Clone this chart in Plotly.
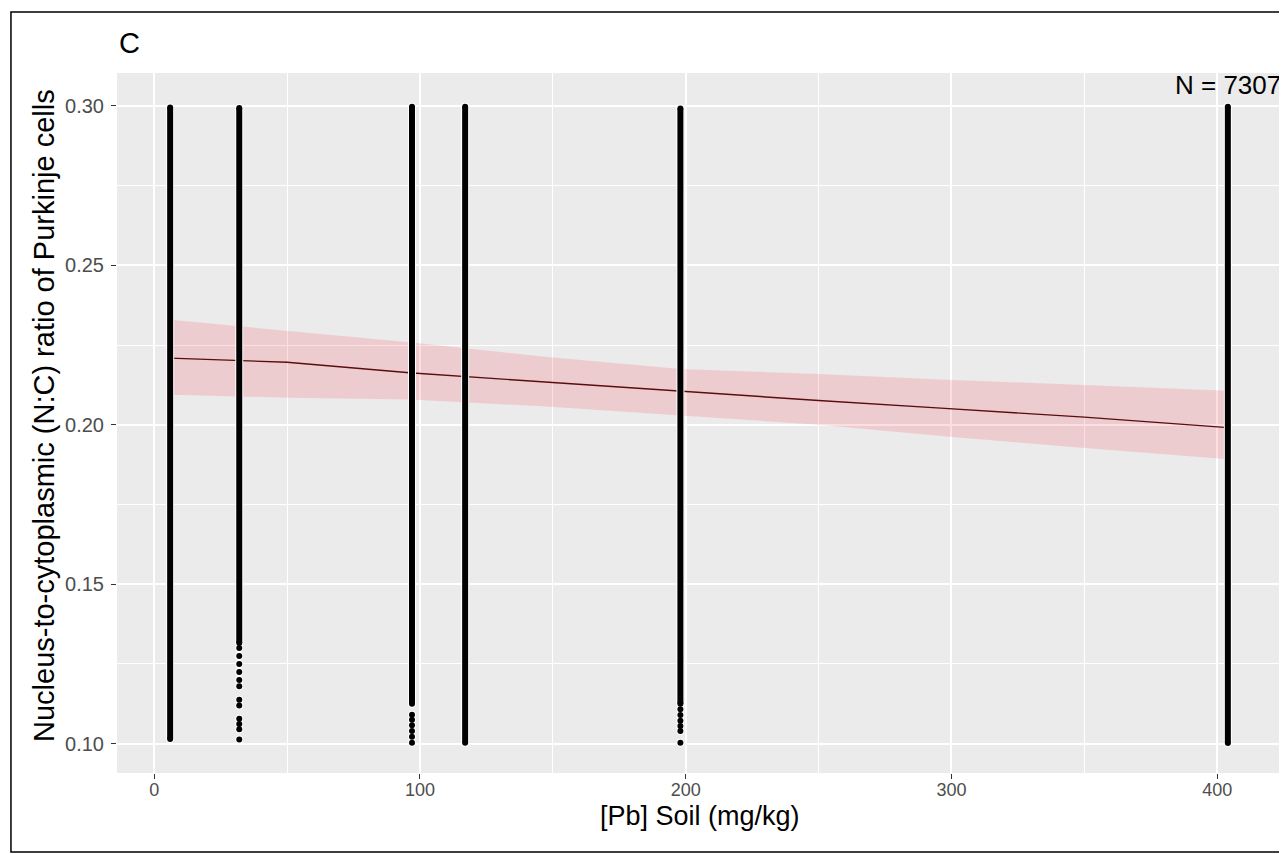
import plotly.graph_objects as go

# soil Pb level of each sampling site (mg/kg)
site_pb = [6, 32, 97, 117, 198, 404]

# y range covered by the dense run of points at each site
dense_lo = [0.1015, 0.1316, 0.1125, 0.1003, 0.1125, 0.1002]
dense_hi = [0.2995, 0.2993, 0.2997, 0.2997, 0.2992, 0.2997]

# isolated points below the dense runs
sparse_s1 = []
sparse_s2 = [0.1300, 0.1275, 0.1250, 0.1225, 0.1200, 0.1180, 0.1138, 0.1120,
             0.1078, 0.1062, 0.1045, 0.1013]
sparse_s3 = [0.1091, 0.1075, 0.1058, 0.1040, 0.1022, 0.1003]
sparse_s4 = []
sparse_s5 = [0.1108, 0.1090, 0.1072, 0.1055, 0.1040, 0.1003]
sparse_s6 = []
sparse_all = [sparse_s1, sparse_s2, sparse_s3, sparse_s4, sparse_s5, sparse_s6]

# linear fit and its confidence band
fit_x = [6, 50, 96, 146, 198, 250, 296, 350, 404]
fit_y = [0.2209, 0.2196, 0.2163, 0.2134, 0.2104, 0.2076, 0.2052, 0.2024, 0.1991]
band_hi = [0.2329, 0.2295, 0.2259, 0.2214, 0.2175, 0.2159, 0.2142, 0.2125, 0.2107]
band_lo = [0.2094, 0.2085, 0.2079, 0.2058, 0.2029, 0.2000, 0.1965, 0.1927, 0.1892]

n_cells = 7307

# build the stripe segments and dots
seg_x, seg_y = [], []
for x, lo, hi in zip(site_pb, dense_lo, dense_hi):
    seg_x += [x, x, None]
    seg_y += [lo, hi, None]
dot_x, dot_y = [], []
for x, ys in zip(site_pb, sparse_all):
    dot_x += [x] * len(ys)
    dot_y += ys

fig = go.Figure()

# confidence ribbon
fig.add_trace(go.Scatter(x=fit_x, y=band_lo, mode='lines', line=dict(width=0),
                         hoverinfo='skip', showlegend=False))
fig.add_trace(go.Scatter(x=fit_x, y=band_hi, mode='lines', line=dict(width=0),
                         fill='tonexty', fillcolor='rgba(255,0,30,0.13)',
                         hoverinfo='skip', showlegend=False))
# fitted line
fig.add_trace(go.Scatter(x=fit_x, y=fit_y, mode='lines',
                         line=dict(color='#5a0d0d', width=1.4), showlegend=False))

# white halo then black points
fig.add_trace(go.Scatter(x=seg_x, y=seg_y, mode='lines+markers',
                         line=dict(color='white', width=8),
                         marker=dict(color='white', size=8), showlegend=False))
fig.add_trace(go.Scatter(x=dot_x, y=dot_y, mode='markers',
                         marker=dict(color='white', size=8), showlegend=False))
fig.add_trace(go.Scatter(x=seg_x, y=seg_y, mode='lines+markers',
                         line=dict(color='black', width=6),
                         marker=dict(color='black', size=6), showlegend=False))
fig.add_trace(go.Scatter(x=dot_x, y=dot_y, mode='markers',
                         marker=dict(color='black', size=6), showlegend=False))

fam = 'Liberation Sans, Arial, sans-serif'
fig.update_xaxes(range=[-14, 424], tick0=0, dtick=100, showgrid=True,
                 gridcolor='white', gridwidth=1.6, zeroline=False,
                 ticks='outside', ticklen=5, tickcolor='#333333', tickwidth=1,
                 tickfont=dict(family=fam, size=18, color='#4D4D4D'),
                 ticklabelstandoff=-5, showline=False,
                 minor=dict(dtick=50, tick0=0, showgrid=True, gridcolor='white',
                            gridwidth=0.8, ticks=''))
fig.update_yaxes(range=[0.0908, 0.3103], tick0=0.10, dtick=0.05, tickformat='.2f',
                 showgrid=True, gridcolor='white', gridwidth=1.6, zeroline=False,
                 ticks='outside', ticklen=5, tickcolor='#333333', tickwidth=1,
                 tickfont=dict(family=fam, size=20, color='#4D4D4D'),
                 ticklabelstandoff=3, showline=False,
                 minor=dict(dtick=0.025, tick0=0.10, showgrid=True, gridcolor='white',
                            gridwidth=0.8, ticks=''))

# page body has an 8px margin, so the figure is 8px smaller than the window
fig.update_layout(
    width=1279, height=846,
    margin=dict(l=109, r=6, t=65, b=81),
    paper_bgcolor='white', plot_bgcolor='#EBEBEB',
    font=dict(family=fam, color='black'),
    showlegend=False,
    annotations=[
        dict(text='C', xref='paper', yref='paper', x=0.0, y=1.043,
             xanchor='left', yanchor='middle', showarrow=False,
             font=dict(size=29, color='black')),
        dict(text=f'N = {n_cells}', xref='x', yref='y', x=site_pb[-1], y=0.3065,
             xanchor='center', yanchor='middle', showarrow=False,
             font=dict(size=26, color='black')),
        dict(text='[Pb] Soil (mg/kg)', xref='paper', yref='paper', x=0.501, y=-0.061,
             xanchor='center', yanchor='middle', showarrow=False,
             font=dict(size=27, color='black')),
        dict(text='Nucleus-to-cytoplasmic (N:C) ratio of Purkinje cells',
             xref='paper', yref='paper', x=-0.0627, y=0.51, textangle=-90,
             xanchor='center', yanchor='middle', showarrow=False,
             font=dict(size=29, color='black')),
    ],
    shapes=[dict(type='rect', xref='paper', yref='paper',
                 x0=-0.0911, x1=1.0034, y0=-0.1129, y1=1.0871,
                 line=dict(color='black', width=1.5), fillcolor='rgba(0,0,0,0)',
                 layer='below')],
)

fig.write_html('out.html')
